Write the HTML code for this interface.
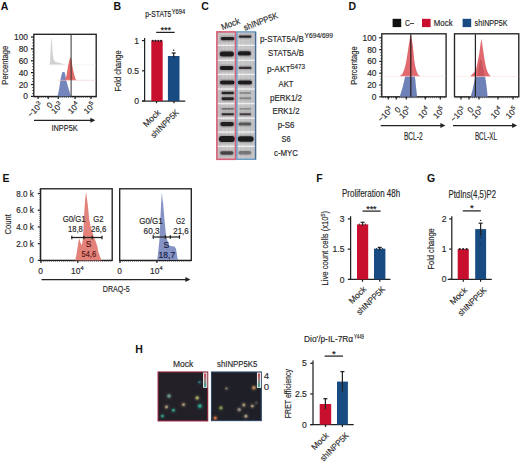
<!DOCTYPE html>
<html><head><meta charset="utf-8"><style>
html,body{margin:0;padding:0;background:#fff;width:520px;height:463px;overflow:hidden;}
svg{display:block;}
text{font-family:"Liberation Sans", sans-serif;}
</style></head><body>
<svg width="520" height="463" viewBox="0 0 520 463">
<text x="0.80" y="9.60" font-size="10.5" font-weight="bold" fill="#111">A</text>
<rect x="33.80" y="34.30" width="62.40" height="62.20" fill="none" stroke="#222" stroke-width="1.35"/>
<line x1="31.00" y1="96.40" x2="33.80" y2="96.40" stroke="#222" stroke-width="1.25"/>
<text x="28.00" y="99.40" font-size="8.4" text-anchor="end" fill="#282828" stroke="#282828" stroke-width="0.16">0</text>
<line x1="31.00" y1="84.52" x2="33.80" y2="84.52" stroke="#222" stroke-width="1.25"/>
<text x="28.00" y="87.52" font-size="8.4" text-anchor="end" fill="#282828" stroke="#282828" stroke-width="0.16">20</text>
<line x1="31.00" y1="72.64" x2="33.80" y2="72.64" stroke="#222" stroke-width="1.25"/>
<text x="28.00" y="75.64" font-size="8.4" text-anchor="end" fill="#282828" stroke="#282828" stroke-width="0.16">40</text>
<line x1="31.00" y1="60.76" x2="33.80" y2="60.76" stroke="#222" stroke-width="1.25"/>
<text x="28.00" y="63.76" font-size="8.4" text-anchor="end" fill="#282828" stroke="#282828" stroke-width="0.16">60</text>
<line x1="31.00" y1="48.88" x2="33.80" y2="48.88" stroke="#222" stroke-width="1.25"/>
<text x="28.00" y="51.88" font-size="8.4" text-anchor="end" fill="#282828" stroke="#282828" stroke-width="0.16">80</text>
<line x1="31.00" y1="37.00" x2="33.80" y2="37.00" stroke="#222" stroke-width="1.25"/>
<text x="28.00" y="40.00" font-size="8.4" text-anchor="end" fill="#282828" stroke="#282828" stroke-width="0.16">100</text>
<line x1="32.20" y1="93.43" x2="33.80" y2="93.43" stroke="#222" stroke-width="0.8"/>
<line x1="32.20" y1="90.46" x2="33.80" y2="90.46" stroke="#222" stroke-width="0.8"/>
<line x1="32.20" y1="87.49" x2="33.80" y2="87.49" stroke="#222" stroke-width="0.8"/>
<line x1="32.20" y1="81.55" x2="33.80" y2="81.55" stroke="#222" stroke-width="0.8"/>
<line x1="32.20" y1="78.58" x2="33.80" y2="78.58" stroke="#222" stroke-width="0.8"/>
<line x1="32.20" y1="75.61" x2="33.80" y2="75.61" stroke="#222" stroke-width="0.8"/>
<line x1="32.20" y1="69.67" x2="33.80" y2="69.67" stroke="#222" stroke-width="0.8"/>
<line x1="32.20" y1="66.70" x2="33.80" y2="66.70" stroke="#222" stroke-width="0.8"/>
<line x1="32.20" y1="63.73" x2="33.80" y2="63.73" stroke="#222" stroke-width="0.8"/>
<line x1="32.20" y1="57.79" x2="33.80" y2="57.79" stroke="#222" stroke-width="0.8"/>
<line x1="32.20" y1="54.82" x2="33.80" y2="54.82" stroke="#222" stroke-width="0.8"/>
<line x1="32.20" y1="51.85" x2="33.80" y2="51.85" stroke="#222" stroke-width="0.8"/>
<line x1="32.20" y1="45.91" x2="33.80" y2="45.91" stroke="#222" stroke-width="0.8"/>
<line x1="32.20" y1="42.94" x2="33.80" y2="42.94" stroke="#222" stroke-width="0.8"/>
<line x1="32.20" y1="39.97" x2="33.80" y2="39.97" stroke="#222" stroke-width="0.8"/>
<text x="7.90" y="65.20" font-size="8.8" text-anchor="middle" fill="#282828" textLength="39" lengthAdjust="spacingAndGlyphs" stroke="#282828" stroke-width="0.16" transform="rotate(-90 7.90 65.20)">Percentage</text>
<path d="M49.3 64.8 L50 62 L50.5 52 L51 42 L51.5 36.8 L52 42 L52.6 52 L53.5 59 L55 61.8 L58 62.5 L62 63.5 L65.5 64.8 Z" fill="#d2d2d2"/>
<line x1="49.00" y1="64.80" x2="95.50" y2="64.80" stroke="#ececec" stroke-width="0.6"/>
<path d="M57.2 96.4 L57.8 94.9 L59.1 89.3 L60.5 79.6 L61.5 75 L62.5 72 L64.5 72 L65.3 75 L66 79.6 L68.8 89.3 L70.6 94.9 L71.2 96.4 Z" fill="#7486bc"/>
<path d="M58.4 80.3 L63 80 L65.4 79.6 L66.5 75.5 L67.4 70 L68.1 65.8 L69.4 60 L70.6 56.8 L71.5 60 L72.3 65.8 L73.3 71 L74.4 75.5 L75.7 79.6 L77 80.3 Z" fill="#e0605e" fill-opacity="0.93"/>
<line x1="58.00" y1="80.30" x2="95.50" y2="80.30" stroke="#f4cccc" stroke-width="0.6"/>
<line x1="71.10" y1="34.30" x2="71.10" y2="96.40" stroke="#333" stroke-width="1"/>
<line x1="38.10" y1="96.40" x2="38.10" y2="99.00" stroke="#222" stroke-width="1.25"/>
<line x1="48.20" y1="96.40" x2="48.20" y2="99.00" stroke="#222" stroke-width="1.25"/>
<line x1="58.30" y1="96.40" x2="58.30" y2="99.00" stroke="#222" stroke-width="1.25"/>
<line x1="75.10" y1="96.40" x2="75.10" y2="99.00" stroke="#222" stroke-width="1.25"/>
<line x1="91.00" y1="96.40" x2="91.00" y2="99.00" stroke="#222" stroke-width="1.25"/>
<line x1="35.00" y1="96.40" x2="35.00" y2="97.80" stroke="#222" stroke-width="0.6"/>
<line x1="37.10" y1="96.40" x2="37.10" y2="97.80" stroke="#222" stroke-width="0.6"/>
<line x1="39.20" y1="96.40" x2="39.20" y2="97.80" stroke="#222" stroke-width="0.6"/>
<line x1="41.30" y1="96.40" x2="41.30" y2="97.80" stroke="#222" stroke-width="0.6"/>
<line x1="43.40" y1="96.40" x2="43.40" y2="97.80" stroke="#222" stroke-width="0.6"/>
<line x1="45.50" y1="96.40" x2="45.50" y2="97.80" stroke="#222" stroke-width="0.6"/>
<line x1="47.60" y1="96.40" x2="47.60" y2="97.80" stroke="#222" stroke-width="0.6"/>
<line x1="49.70" y1="96.40" x2="49.70" y2="97.80" stroke="#222" stroke-width="0.6"/>
<line x1="51.80" y1="96.40" x2="51.80" y2="97.80" stroke="#222" stroke-width="0.6"/>
<line x1="53.90" y1="96.40" x2="53.90" y2="97.80" stroke="#222" stroke-width="0.6"/>
<line x1="56.00" y1="96.40" x2="56.00" y2="97.80" stroke="#222" stroke-width="0.6"/>
<line x1="58.10" y1="96.40" x2="58.10" y2="97.80" stroke="#222" stroke-width="0.6"/>
<line x1="60.20" y1="96.40" x2="60.20" y2="97.80" stroke="#222" stroke-width="0.6"/>
<line x1="62.30" y1="96.40" x2="62.30" y2="97.80" stroke="#222" stroke-width="0.6"/>
<line x1="64.40" y1="96.40" x2="64.40" y2="97.80" stroke="#222" stroke-width="0.6"/>
<line x1="66.50" y1="96.40" x2="66.50" y2="97.80" stroke="#222" stroke-width="0.6"/>
<line x1="68.60" y1="96.40" x2="68.60" y2="97.80" stroke="#222" stroke-width="0.6"/>
<line x1="70.70" y1="96.40" x2="70.70" y2="97.80" stroke="#222" stroke-width="0.6"/>
<line x1="72.80" y1="96.40" x2="72.80" y2="97.80" stroke="#222" stroke-width="0.6"/>
<line x1="74.90" y1="96.40" x2="74.90" y2="97.80" stroke="#222" stroke-width="0.6"/>
<line x1="77.00" y1="96.40" x2="77.00" y2="97.80" stroke="#222" stroke-width="0.6"/>
<line x1="79.10" y1="96.40" x2="79.10" y2="97.80" stroke="#222" stroke-width="0.6"/>
<line x1="81.20" y1="96.40" x2="81.20" y2="97.80" stroke="#222" stroke-width="0.6"/>
<line x1="83.30" y1="96.40" x2="83.30" y2="97.80" stroke="#222" stroke-width="0.6"/>
<line x1="85.40" y1="96.40" x2="85.40" y2="97.80" stroke="#222" stroke-width="0.6"/>
<line x1="87.50" y1="96.40" x2="87.50" y2="97.80" stroke="#222" stroke-width="0.6"/>
<line x1="89.60" y1="96.40" x2="89.60" y2="97.80" stroke="#222" stroke-width="0.6"/>
<line x1="91.70" y1="96.40" x2="91.70" y2="97.80" stroke="#222" stroke-width="0.6"/>
<line x1="93.80" y1="96.40" x2="93.80" y2="97.80" stroke="#222" stroke-width="0.6"/>
<line x1="95.90" y1="96.40" x2="95.90" y2="97.80" stroke="#222" stroke-width="0.6"/>
<text x="43.10" y="105.50" font-size="8.2" text-anchor="end" fill="#282828" stroke="#282828" stroke-width="0.16" transform="rotate(-45 43.10 105.50)">−10<tspan font-size="6.2" dy="-3.2">3</tspan></text>
<text x="53.20" y="105.50" font-size="8.2" text-anchor="end" fill="#282828" stroke="#282828" stroke-width="0.16" transform="rotate(-45 53.20 105.50)">0</text>
<text x="63.30" y="105.50" font-size="8.2" text-anchor="end" fill="#282828" stroke="#282828" stroke-width="0.16" transform="rotate(-45 63.30 105.50)">10<tspan font-size="6.2" dy="-3.2">3</tspan></text>
<text x="80.10" y="105.50" font-size="8.2" text-anchor="end" fill="#282828" stroke="#282828" stroke-width="0.16" transform="rotate(-45 80.10 105.50)">10<tspan font-size="6.2" dy="-3.2">4</tspan></text>
<text x="96.00" y="105.50" font-size="8.2" text-anchor="end" fill="#282828" stroke="#282828" stroke-width="0.16" transform="rotate(-45 96.00 105.50)">10<tspan font-size="6.2" dy="-3.2">5</tspan></text>
<line x1="34.00" y1="120.30" x2="91.40" y2="120.30" stroke="#222" stroke-width="1.25"/>
<path d="M95.40 120.30 L90.40 117.80 L90.40 122.80 Z" fill="#222"/>
<text x="64.60" y="130.80" font-size="9.6" text-anchor="middle" fill="#282828" textLength="26.3" lengthAdjust="spacingAndGlyphs" stroke="#282828" stroke-width="0.16">INPP5K</text>
<text x="113.40" y="10.10" font-size="10.5" font-weight="bold" fill="#111">B</text>
<text x="145.30" y="16.80" font-size="8.4" fill="#1e1e1e" textLength="26" lengthAdjust="spacingAndGlyphs" stroke="#1e1e1e" stroke-width="0.16">p-STAT5</text>
<text x="171.70" y="13.80" font-size="6.8" fill="#1e1e1e" textLength="13.5" lengthAdjust="spacingAndGlyphs" stroke="#1e1e1e" stroke-width="0.16">Y694</text>
<line x1="144.60" y1="38.00" x2="144.60" y2="101.00" stroke="#222" stroke-width="1.25"/>
<line x1="142.00" y1="40.60" x2="144.50" y2="40.60" stroke="#222" stroke-width="1.25"/>
<text x="139.10" y="43.60" font-size="8.6" text-anchor="end" fill="#282828" stroke="#282828" stroke-width="0.16">1</text>
<line x1="142.00" y1="70.80" x2="144.50" y2="70.80" stroke="#222" stroke-width="1.25"/>
<text x="139.10" y="73.80" font-size="8.6" text-anchor="end" fill="#282828" stroke="#282828" stroke-width="0.16">0.5</text>
<line x1="142.00" y1="101.00" x2="144.50" y2="101.00" stroke="#222" stroke-width="1.25"/>
<text x="139.10" y="104.00" font-size="8.6" text-anchor="end" fill="#282828" stroke="#282828" stroke-width="0.16">0</text>
<line x1="142.30" y1="101.00" x2="185.30" y2="101.00" stroke="#222" stroke-width="1.25"/>
<rect x="151.30" y="40.60" width="11.40" height="60.40" fill="#c8102e"/>
<rect x="167.90" y="56.00" width="11.60" height="45.00" fill="#174b82"/>
<circle cx="152.80" cy="40.70" r="1.05" fill="#222"/>
<circle cx="155.50" cy="40.70" r="1.05" fill="#222"/>
<circle cx="158.30" cy="40.70" r="1.05" fill="#222"/>
<circle cx="161.00" cy="40.70" r="1.05" fill="#222"/>
<line x1="173.70" y1="53.00" x2="173.70" y2="58.00" stroke="#222" stroke-width="1.25"/>
<line x1="171.70" y1="53.00" x2="175.70" y2="53.00" stroke="#222" stroke-width="1.25"/>
<circle cx="173.70" cy="50.20" r="0.8" fill="#222"/>
<line x1="156.20" y1="32.40" x2="174.70" y2="32.40" stroke="#222" stroke-width="1.25"/>
<text x="165.70" y="33.00" font-size="9.6" text-anchor="middle" textLength="10.6" lengthAdjust="spacingAndGlyphs" stroke="#222" stroke-width="0.16">***</text>
<line x1="156.50" y1="101.00" x2="156.50" y2="103.20" stroke="#222" stroke-width="1.25"/>
<line x1="174.00" y1="101.00" x2="174.00" y2="103.20" stroke="#222" stroke-width="1.25"/>
<text x="161.00" y="113.00" font-size="8.4" text-anchor="end" fill="#2a2a2a" textLength="20.5" lengthAdjust="spacingAndGlyphs" stroke="#2a2a2a" stroke-width="0.16" transform="rotate(-45 161.00 113.00)">Mock</text>
<text x="179.50" y="113.00" font-size="8.4" text-anchor="end" fill="#2a2a2a" textLength="36" lengthAdjust="spacingAndGlyphs" stroke="#2a2a2a" stroke-width="0.16" transform="rotate(-45 179.50 113.00)">shINPP5K</text>
<text x="121.00" y="70.90" font-size="9.2" text-anchor="middle" fill="#282828" textLength="41" lengthAdjust="spacingAndGlyphs" stroke="#282828" stroke-width="0.16" transform="rotate(-90 121.00 70.90)">Fold change</text>
<text x="201.30" y="10.10" font-size="10.5" font-weight="bold" fill="#111">C</text>
<text x="222.40" y="30.30" font-size="8.8" fill="#282828" textLength="19.6" lengthAdjust="spacingAndGlyphs" stroke="#282828" stroke-width="0.16" transform="rotate(-21 222.40 30.30)">Mock</text>
<text x="245.00" y="30.80" font-size="8.8" fill="#282828" textLength="36.0" lengthAdjust="spacingAndGlyphs" stroke="#282828" stroke-width="0.16" transform="rotate(-21 245.00 30.80)">shINPP5K</text>
<defs><linearGradient id="blotg" x1="0" x2="1" y1="0" y2="0"><stop offset="0" stop-color="#c0bebf"/><stop offset="0.25" stop-color="#c8c6c7"/><stop offset="0.5" stop-color="#cfcdcd"/><stop offset="0.75" stop-color="#c6c6c8"/><stop offset="1" stop-color="#c2c3c6"/></linearGradient><filter id="blur1" x="-20%" y="-50%" width="140%" height="200%"><feGaussianBlur stdDeviation="0.7"/></filter><filter id="blur3" x="-100%" y="-100%" width="300%" height="300%"><feGaussianBlur stdDeviation="1.0"/></filter><filter id="blur2" x="-20%" y="-80%" width="140%" height="260%"><feGaussianBlur stdDeviation="0.55"/></filter></defs>
<rect x="216.50" y="31.70" width="39.00" height="127.80" fill="url(#blotg)"/>
<rect x="219.50" y="32.00" width="1.20" height="127.20" fill="#9a9a9a" fill-opacity="0.18"/>
<rect x="224.50" y="32.00" width="1.00" height="127.20" fill="#b0a890" fill-opacity="0.2"/>
<rect x="228.00" y="32.00" width="1.50" height="127.20" fill="#8a8a9a" fill-opacity="0.15"/>
<rect x="231.50" y="32.00" width="1.20" height="127.20" fill="#a09a90" fill-opacity="0.18"/>
<rect x="233.50" y="32.00" width="1.00" height="127.20" fill="#8890a0" fill-opacity="0.2"/>
<rect x="240.00" y="32.00" width="1.20" height="127.20" fill="#a0a0a0" fill-opacity="0.12"/>
<rect x="245.00" y="32.00" width="1.50" height="127.20" fill="#a8a098" fill-opacity="0.12"/>
<rect x="250.00" y="32.00" width="1.20" height="127.20" fill="#9898a0" fill-opacity="0.12"/>
<rect x="253.50" y="32.00" width="1.00" height="127.20" fill="#a0a0a8" fill-opacity="0.15"/>
<rect x="216.50" y="44.60" width="39.00" height="1.40" fill="#eeeeee"/>
<rect x="216.50" y="59.60" width="39.00" height="1.40" fill="#eeeeee"/>
<rect x="216.50" y="73.70" width="39.00" height="1.40" fill="#eeeeee"/>
<rect x="216.50" y="88.30" width="39.00" height="1.40" fill="#eeeeee"/>
<rect x="216.50" y="102.90" width="39.00" height="1.40" fill="#eeeeee"/>
<rect x="216.50" y="117.40" width="39.00" height="1.40" fill="#eeeeee"/>
<rect x="216.50" y="131.30" width="39.00" height="1.40" fill="#eeeeee"/>
<rect x="216.50" y="145.60" width="39.00" height="1.40" fill="#eeeeee"/>
<rect x="219.80" y="35.30" width="15.60" height="6.60" rx="3.30" fill="#605a5c" fill-opacity="0.27" filter="url(#blur1)"/>
<rect x="220.80" y="36.90" width="13.60" height="3.40" rx="1.70" fill="#1e1a1e" fill-opacity="0.97" filter="url(#blur2)"/>
<rect x="237.80" y="33.85" width="14.60" height="5.50" rx="2.75" fill="#605a5c" fill-opacity="0.26" filter="url(#blur1)"/>
<rect x="238.80" y="35.45" width="12.60" height="2.30" rx="1.15" fill="#1e1a1e" fill-opacity="0.92" filter="url(#blur2)"/>
<rect x="218.80" y="49.90" width="16.10" height="8.20" rx="4.10" fill="#605a5c" fill-opacity="0.28" filter="url(#blur1)"/>
<rect x="219.80" y="51.50" width="14.10" height="5.00" rx="2.50" fill="#1e1a1e" fill-opacity="1.0" filter="url(#blur2)"/>
<rect x="236.80" y="49.60" width="15.10" height="7.60" rx="3.80" fill="#605a5c" fill-opacity="0.28" filter="url(#blur1)"/>
<rect x="237.80" y="51.20" width="13.10" height="4.40" rx="2.20" fill="#1e1a1e" fill-opacity="1.0" filter="url(#blur2)"/>
<rect x="218.80" y="64.30" width="15.60" height="7.20" rx="3.60" fill="#605a5c" fill-opacity="0.28" filter="url(#blur1)"/>
<rect x="219.80" y="65.90" width="13.60" height="4.00" rx="2.00" fill="#1e1a1e" fill-opacity="1.0" filter="url(#blur2)"/>
<rect x="237.80" y="65.20" width="14.60" height="5.40" rx="2.70" fill="#605a5c" fill-opacity="0.24" filter="url(#blur1)"/>
<rect x="238.80" y="66.80" width="12.60" height="2.20" rx="1.10" fill="#1e1a1e" fill-opacity="0.85" filter="url(#blur2)"/>
<rect x="219.00" y="78.80" width="16.60" height="7.40" rx="3.70" fill="#605a5c" fill-opacity="0.28" filter="url(#blur1)"/>
<rect x="220.00" y="80.40" width="14.60" height="4.20" rx="2.10" fill="#1e1a1e" fill-opacity="1.0" filter="url(#blur2)"/>
<rect x="236.80" y="78.80" width="16.20" height="7.40" rx="3.70" fill="#605a5c" fill-opacity="0.28" filter="url(#blur1)"/>
<rect x="237.80" y="80.40" width="14.20" height="4.20" rx="2.10" fill="#1e1a1e" fill-opacity="1.0" filter="url(#blur2)"/>
<rect x="220.60" y="90.20" width="14.30" height="5.60" rx="2.80" fill="#605a5c" fill-opacity="0.27" filter="url(#blur1)"/>
<rect x="221.60" y="91.80" width="12.30" height="2.40" rx="1.20" fill="#1e1a1e" fill-opacity="0.95" filter="url(#blur2)"/>
<rect x="238.50" y="90.40" width="13.50" height="5.20" rx="2.60" fill="#605a5c" fill-opacity="0.08" filter="url(#blur1)"/>
<rect x="239.50" y="92.00" width="11.50" height="2.00" rx="1.00" fill="#1e1a1e" fill-opacity="0.3" filter="url(#blur2)"/>
<rect x="220.60" y="95.75" width="14.30" height="6.10" rx="3.05" fill="#605a5c" fill-opacity="0.27" filter="url(#blur1)"/>
<rect x="221.60" y="97.35" width="12.30" height="2.90" rx="1.45" fill="#1e1a1e" fill-opacity="0.95" filter="url(#blur2)"/>
<rect x="238.50" y="95.70" width="13.50" height="5.20" rx="2.60" fill="#605a5c" fill-opacity="0.10" filter="url(#blur1)"/>
<rect x="239.50" y="97.30" width="11.50" height="2.00" rx="1.00" fill="#1e1a1e" fill-opacity="0.35" filter="url(#blur2)"/>
<rect x="220.60" y="106.40" width="14.30" height="5.00" rx="2.50" fill="#605a5c" fill-opacity="0.13" filter="url(#blur1)"/>
<rect x="221.60" y="108.00" width="12.30" height="1.80" rx="0.90" fill="#1e1a1e" fill-opacity="0.45" filter="url(#blur2)"/>
<rect x="238.50" y="106.40" width="13.50" height="5.00" rx="2.50" fill="#605a5c" fill-opacity="0.08" filter="url(#blur1)"/>
<rect x="239.50" y="108.00" width="11.50" height="1.80" rx="0.90" fill="#1e1a1e" fill-opacity="0.3" filter="url(#blur2)"/>
<rect x="220.60" y="111.55" width="14.30" height="5.30" rx="2.65" fill="#605a5c" fill-opacity="0.25" filter="url(#blur1)"/>
<rect x="221.60" y="113.15" width="12.30" height="2.10" rx="1.05" fill="#1e1a1e" fill-opacity="0.9" filter="url(#blur2)"/>
<rect x="238.50" y="111.60" width="13.50" height="5.20" rx="2.60" fill="#605a5c" fill-opacity="0.21" filter="url(#blur1)"/>
<rect x="239.50" y="113.20" width="11.50" height="2.00" rx="1.00" fill="#1e1a1e" fill-opacity="0.75" filter="url(#blur2)"/>
<rect x="219.30" y="120.35" width="15.60" height="7.50" rx="3.75" fill="#605a5c" fill-opacity="0.27" filter="url(#blur1)"/>
<rect x="220.30" y="121.95" width="13.60" height="4.30" rx="2.15" fill="#1e1a1e" fill-opacity="0.97" filter="url(#blur2)"/>
<rect x="237.50" y="121.00" width="14.60" height="6.20" rx="3.10" fill="#605a5c" fill-opacity="0.17" filter="url(#blur1)"/>
<rect x="238.50" y="122.60" width="12.60" height="3.00" rx="1.50" fill="#1e1a1e" fill-opacity="0.62" filter="url(#blur2)"/>
<rect x="217.90" y="134.40" width="18.00" height="9.20" rx="4.60" fill="#605a5c" fill-opacity="0.28" filter="url(#blur1)"/>
<rect x="218.90" y="136.00" width="16.00" height="6.00" rx="3.00" fill="#1e1a1e" fill-opacity="1.0" filter="url(#blur2)"/>
<rect x="236.80" y="134.75" width="17.80" height="8.50" rx="4.25" fill="#605a5c" fill-opacity="0.28" filter="url(#blur1)"/>
<rect x="237.80" y="136.35" width="15.80" height="5.30" rx="2.65" fill="#1e1a1e" fill-opacity="1.0" filter="url(#blur2)"/>
<rect x="219.30" y="149.75" width="15.10" height="6.70" rx="3.35" fill="#605a5c" fill-opacity="0.20" filter="url(#blur1)"/>
<rect x="220.30" y="151.35" width="13.10" height="3.50" rx="1.75" fill="#1e1a1e" fill-opacity="0.72" filter="url(#blur2)"/>
<rect x="237.50" y="149.50" width="14.60" height="6.60" rx="3.30" fill="#605a5c" fill-opacity="0.12" filter="url(#blur1)"/>
<rect x="238.50" y="151.10" width="12.60" height="3.40" rx="1.70" fill="#1e1a1e" fill-opacity="0.42" filter="url(#blur2)"/>
<rect x="216.90" y="31.90" width="18.60" height="127.40" fill="none" stroke="#d86078" stroke-width="1.6"/>
<rect x="236.90" y="31.90" width="18.60" height="127.40" fill="none" stroke="#6a9cc8" stroke-width="1.4"/>
<line x1="255.60" y1="31.90" x2="255.60" y2="159.30" stroke="#4a6a90" stroke-width="1.2"/>
<text x="260.00" y="41.70" font-size="8.4" fill="#282828" textLength="43.8" lengthAdjust="spacingAndGlyphs" stroke="#282828" stroke-width="0.16">p-STAT5A/B</text>
<text x="304.60" y="38.10" font-size="6.9" fill="#282828" textLength="28.4" lengthAdjust="spacingAndGlyphs" stroke="#282828" stroke-width="0.16">Y694/699</text>
<text x="286.00" y="55.90" font-size="8.4" text-anchor="middle" fill="#282828" textLength="35.8" lengthAdjust="spacingAndGlyphs" stroke="#282828" stroke-width="0.16">STAT5A/B</text>
<text x="267.00" y="71.80" font-size="8.4" fill="#282828" textLength="23.5" lengthAdjust="spacingAndGlyphs" stroke="#282828" stroke-width="0.16">p-AKT</text>
<text x="290.30" y="69.00" font-size="6.8" fill="#282828" textLength="14.7" lengthAdjust="spacingAndGlyphs" stroke="#282828" stroke-width="0.16">S473</text>
<text x="286.00" y="86.60" font-size="8.4" text-anchor="middle" fill="#282828" textLength="15" lengthAdjust="spacingAndGlyphs" stroke="#282828" stroke-width="0.16">AKT</text>
<text x="286.00" y="100.80" font-size="8.4" text-anchor="middle" fill="#282828" textLength="32.1" lengthAdjust="spacingAndGlyphs" stroke="#282828" stroke-width="0.16">pERK1/2</text>
<text x="286.00" y="114.40" font-size="8.4" text-anchor="middle" fill="#282828" textLength="27.2" lengthAdjust="spacingAndGlyphs" stroke="#282828" stroke-width="0.16">ERK1/2</text>
<text x="286.00" y="128.40" font-size="8.4" text-anchor="middle" fill="#282828" textLength="16.6" lengthAdjust="spacingAndGlyphs" stroke="#282828" stroke-width="0.16">p-S6</text>
<text x="286.00" y="142.00" font-size="8.4" text-anchor="middle" fill="#282828" textLength="9" lengthAdjust="spacingAndGlyphs" stroke="#282828" stroke-width="0.16">S6</text>
<text x="286.00" y="156.30" font-size="8.4" text-anchor="middle" fill="#282828" textLength="24" lengthAdjust="spacingAndGlyphs" stroke="#282828" stroke-width="0.16">c-MYC</text>
<text x="348.60" y="10.10" font-size="10.5" font-weight="bold" fill="#111">D</text>
<rect x="392.60" y="18.80" width="8.60" height="8.30" fill="#111"/>
<text x="405.00" y="25.70" font-size="8.2" fill="#282828" textLength="8.8" lengthAdjust="spacingAndGlyphs" stroke="#282828" stroke-width="0.16">C–</text>
<rect x="422.00" y="18.80" width="8.60" height="8.30" fill="#c8102e"/>
<text x="433.80" y="25.70" font-size="8.2" fill="#282828" textLength="18.8" lengthAdjust="spacingAndGlyphs" stroke="#282828" stroke-width="0.16">Mock</text>
<rect x="462.60" y="18.80" width="8.60" height="8.30" fill="#174b82"/>
<text x="474.60" y="25.70" font-size="8.2" fill="#282828" textLength="33" lengthAdjust="spacingAndGlyphs" stroke="#282828" stroke-width="0.16">shINPP5K</text>
<rect x="381.80" y="33.80" width="64.30" height="63.00" fill="none" stroke="#222" stroke-width="1.35"/>
<rect x="454.50" y="33.80" width="64.30" height="63.00" fill="none" stroke="#222" stroke-width="1.35"/>
<line x1="379.20" y1="96.80" x2="381.80" y2="96.80" stroke="#222" stroke-width="1.25"/>
<text x="376.50" y="99.80" font-size="8.4" text-anchor="end" fill="#282828" stroke="#282828" stroke-width="0.16">0</text>
<line x1="379.20" y1="85.00" x2="381.80" y2="85.00" stroke="#222" stroke-width="1.25"/>
<text x="376.50" y="88.00" font-size="8.4" text-anchor="end" fill="#282828" stroke="#282828" stroke-width="0.16">20</text>
<line x1="379.20" y1="73.20" x2="381.80" y2="73.20" stroke="#222" stroke-width="1.25"/>
<text x="376.50" y="76.20" font-size="8.4" text-anchor="end" fill="#282828" stroke="#282828" stroke-width="0.16">40</text>
<line x1="379.20" y1="61.40" x2="381.80" y2="61.40" stroke="#222" stroke-width="1.25"/>
<text x="376.50" y="64.40" font-size="8.4" text-anchor="end" fill="#282828" stroke="#282828" stroke-width="0.16">60</text>
<line x1="379.20" y1="49.60" x2="381.80" y2="49.60" stroke="#222" stroke-width="1.25"/>
<text x="376.50" y="52.60" font-size="8.4" text-anchor="end" fill="#282828" stroke="#282828" stroke-width="0.16">80</text>
<line x1="379.20" y1="37.80" x2="381.80" y2="37.80" stroke="#222" stroke-width="1.25"/>
<text x="376.50" y="40.80" font-size="8.4" text-anchor="end" fill="#282828" stroke="#282828" stroke-width="0.16">100</text>
<line x1="380.40" y1="93.85" x2="381.80" y2="93.85" stroke="#222" stroke-width="0.8"/>
<line x1="380.40" y1="90.90" x2="381.80" y2="90.90" stroke="#222" stroke-width="0.8"/>
<line x1="380.40" y1="87.95" x2="381.80" y2="87.95" stroke="#222" stroke-width="0.8"/>
<line x1="380.40" y1="82.05" x2="381.80" y2="82.05" stroke="#222" stroke-width="0.8"/>
<line x1="380.40" y1="79.10" x2="381.80" y2="79.10" stroke="#222" stroke-width="0.8"/>
<line x1="380.40" y1="76.15" x2="381.80" y2="76.15" stroke="#222" stroke-width="0.8"/>
<line x1="380.40" y1="70.25" x2="381.80" y2="70.25" stroke="#222" stroke-width="0.8"/>
<line x1="380.40" y1="67.30" x2="381.80" y2="67.30" stroke="#222" stroke-width="0.8"/>
<line x1="380.40" y1="64.35" x2="381.80" y2="64.35" stroke="#222" stroke-width="0.8"/>
<line x1="380.40" y1="58.45" x2="381.80" y2="58.45" stroke="#222" stroke-width="0.8"/>
<line x1="380.40" y1="55.50" x2="381.80" y2="55.50" stroke="#222" stroke-width="0.8"/>
<line x1="380.40" y1="52.55" x2="381.80" y2="52.55" stroke="#222" stroke-width="0.8"/>
<line x1="380.40" y1="46.65" x2="381.80" y2="46.65" stroke="#222" stroke-width="0.8"/>
<line x1="380.40" y1="43.70" x2="381.80" y2="43.70" stroke="#222" stroke-width="0.8"/>
<line x1="380.40" y1="40.75" x2="381.80" y2="40.75" stroke="#222" stroke-width="0.8"/>
<text x="356.60" y="65.60" font-size="9.2" text-anchor="middle" fill="#282828" textLength="38.5" lengthAdjust="spacingAndGlyphs" stroke="#282828" stroke-width="0.16" transform="rotate(-90 356.60 65.60)">Percentage</text>
<path d="M399.7 96.8 L401.5 91 L402.9 86.3 L404.3 80 L405.2 76.3 L414.8 76.3 L415.4 80 L415.9 86.3 L416.5 91 L417.1 96.8 Z" fill="#6f82b8"/>
<path d="M399.3 76.3 L401 75.2 L402.6 73.4 L403.9 70.6 L405.3 66 L406.4 60.6 L407.6 53 L408.6 46.3 L409.8 39 L410.7 34.9 L411.7 39 L412.9 46.3 L413.6 53 L414.3 60.6 L415.2 66 L416.4 70.6 L417.4 73.2 L418.6 75 L420.2 76.3 Z" fill="#de5f64" fill-opacity="0.93"/>
<line x1="382.30" y1="76.30" x2="445.80" y2="76.30" stroke="#f6dada" stroke-width="0.5"/>
<line x1="410.80" y1="34.30" x2="410.80" y2="96.80" stroke="#2a1a1a" stroke-width="1.2"/>
<path d="M470.7 96.8 L472.5 90 L473.8 84 L474.8 79 L475.3 76.6 L485 76.6 L485.7 80 L486.5 86 L487.1 91 L487.6 96.8 Z" fill="#6f82b8"/>
<path d="M470.4 76.6 L471.4 74.9 L473.5 73 L475 71.5 L476.4 67.7 L477.8 61 L479.3 53.4 L480.4 45 L481.4 38.4 L482.4 45 L483.6 53.4 L484.8 61 L486.1 67.7 L487.4 71.5 L489.3 74.9 L491 76.6 Z" fill="#de5f64" fill-opacity="0.93"/>
<path d="M477.2 76.6 L478.2 70 L479.5 62 L480.6 58.5 L481.8 62 L483.4 70 L484.6 76.6 Z" fill="#b03c48" fill-opacity="0.45"/>
<line x1="455.00" y1="76.60" x2="518.40" y2="76.60" stroke="#f6dada" stroke-width="0.5"/>
<line x1="475.40" y1="34.30" x2="475.40" y2="96.80" stroke="#222" stroke-width="1.2"/>
<line x1="388.30" y1="96.80" x2="388.30" y2="99.50" stroke="#222" stroke-width="1.25"/>
<line x1="396.30" y1="96.80" x2="396.30" y2="99.50" stroke="#222" stroke-width="1.25"/>
<line x1="406.30" y1="96.80" x2="406.30" y2="99.50" stroke="#222" stroke-width="1.25"/>
<line x1="425.30" y1="96.80" x2="425.30" y2="99.50" stroke="#222" stroke-width="1.25"/>
<line x1="440.30" y1="96.80" x2="440.30" y2="99.50" stroke="#222" stroke-width="1.25"/>
<line x1="383.30" y1="96.80" x2="383.30" y2="98.20" stroke="#222" stroke-width="0.6"/>
<line x1="385.35" y1="96.80" x2="385.35" y2="98.20" stroke="#222" stroke-width="0.6"/>
<line x1="387.40" y1="96.80" x2="387.40" y2="98.20" stroke="#222" stroke-width="0.6"/>
<line x1="389.45" y1="96.80" x2="389.45" y2="98.20" stroke="#222" stroke-width="0.6"/>
<line x1="391.50" y1="96.80" x2="391.50" y2="98.20" stroke="#222" stroke-width="0.6"/>
<line x1="393.55" y1="96.80" x2="393.55" y2="98.20" stroke="#222" stroke-width="0.6"/>
<line x1="395.60" y1="96.80" x2="395.60" y2="98.20" stroke="#222" stroke-width="0.6"/>
<line x1="397.65" y1="96.80" x2="397.65" y2="98.20" stroke="#222" stroke-width="0.6"/>
<line x1="399.70" y1="96.80" x2="399.70" y2="98.20" stroke="#222" stroke-width="0.6"/>
<line x1="401.75" y1="96.80" x2="401.75" y2="98.20" stroke="#222" stroke-width="0.6"/>
<line x1="403.80" y1="96.80" x2="403.80" y2="98.20" stroke="#222" stroke-width="0.6"/>
<line x1="405.85" y1="96.80" x2="405.85" y2="98.20" stroke="#222" stroke-width="0.6"/>
<line x1="407.90" y1="96.80" x2="407.90" y2="98.20" stroke="#222" stroke-width="0.6"/>
<line x1="409.95" y1="96.80" x2="409.95" y2="98.20" stroke="#222" stroke-width="0.6"/>
<line x1="412.00" y1="96.80" x2="412.00" y2="98.20" stroke="#222" stroke-width="0.6"/>
<line x1="414.05" y1="96.80" x2="414.05" y2="98.20" stroke="#222" stroke-width="0.6"/>
<line x1="416.10" y1="96.80" x2="416.10" y2="98.20" stroke="#222" stroke-width="0.6"/>
<line x1="418.15" y1="96.80" x2="418.15" y2="98.20" stroke="#222" stroke-width="0.6"/>
<line x1="420.20" y1="96.80" x2="420.20" y2="98.20" stroke="#222" stroke-width="0.6"/>
<line x1="422.25" y1="96.80" x2="422.25" y2="98.20" stroke="#222" stroke-width="0.6"/>
<line x1="424.30" y1="96.80" x2="424.30" y2="98.20" stroke="#222" stroke-width="0.6"/>
<line x1="426.35" y1="96.80" x2="426.35" y2="98.20" stroke="#222" stroke-width="0.6"/>
<line x1="428.40" y1="96.80" x2="428.40" y2="98.20" stroke="#222" stroke-width="0.6"/>
<line x1="430.45" y1="96.80" x2="430.45" y2="98.20" stroke="#222" stroke-width="0.6"/>
<line x1="432.50" y1="96.80" x2="432.50" y2="98.20" stroke="#222" stroke-width="0.6"/>
<line x1="434.55" y1="96.80" x2="434.55" y2="98.20" stroke="#222" stroke-width="0.6"/>
<line x1="436.60" y1="96.80" x2="436.60" y2="98.20" stroke="#222" stroke-width="0.6"/>
<line x1="438.65" y1="96.80" x2="438.65" y2="98.20" stroke="#222" stroke-width="0.6"/>
<line x1="440.70" y1="96.80" x2="440.70" y2="98.20" stroke="#222" stroke-width="0.6"/>
<line x1="442.75" y1="96.80" x2="442.75" y2="98.20" stroke="#222" stroke-width="0.6"/>
<line x1="444.80" y1="96.80" x2="444.80" y2="98.20" stroke="#222" stroke-width="0.6"/>
<text x="393.30" y="110.30" font-size="8.2" text-anchor="end" fill="#282828" stroke="#282828" stroke-width="0.16" transform="rotate(-45 393.30 110.30)">−10<tspan font-size="6.2" dy="-3.2">3</tspan></text>
<text x="401.30" y="110.30" font-size="8.2" text-anchor="end" fill="#282828" stroke="#282828" stroke-width="0.16" transform="rotate(-45 401.30 110.30)">0</text>
<text x="411.30" y="110.30" font-size="8.2" text-anchor="end" fill="#282828" stroke="#282828" stroke-width="0.16" transform="rotate(-45 411.30 110.30)">10<tspan font-size="6.2" dy="-3.2">3</tspan></text>
<text x="430.30" y="110.30" font-size="8.2" text-anchor="end" fill="#282828" stroke="#282828" stroke-width="0.16" transform="rotate(-45 430.30 110.30)">10<tspan font-size="6.2" dy="-3.2">4</tspan></text>
<text x="445.30" y="110.30" font-size="8.2" text-anchor="end" fill="#282828" stroke="#282828" stroke-width="0.16" transform="rotate(-45 445.30 110.30)">10<tspan font-size="6.2" dy="-3.2">5</tspan></text>
<line x1="461.00" y1="96.80" x2="461.00" y2="99.50" stroke="#222" stroke-width="1.25"/>
<line x1="469.00" y1="96.80" x2="469.00" y2="99.50" stroke="#222" stroke-width="1.25"/>
<line x1="479.00" y1="96.80" x2="479.00" y2="99.50" stroke="#222" stroke-width="1.25"/>
<line x1="498.00" y1="96.80" x2="498.00" y2="99.50" stroke="#222" stroke-width="1.25"/>
<line x1="513.00" y1="96.80" x2="513.00" y2="99.50" stroke="#222" stroke-width="1.25"/>
<line x1="456.00" y1="96.80" x2="456.00" y2="98.20" stroke="#222" stroke-width="0.6"/>
<line x1="458.05" y1="96.80" x2="458.05" y2="98.20" stroke="#222" stroke-width="0.6"/>
<line x1="460.10" y1="96.80" x2="460.10" y2="98.20" stroke="#222" stroke-width="0.6"/>
<line x1="462.15" y1="96.80" x2="462.15" y2="98.20" stroke="#222" stroke-width="0.6"/>
<line x1="464.20" y1="96.80" x2="464.20" y2="98.20" stroke="#222" stroke-width="0.6"/>
<line x1="466.25" y1="96.80" x2="466.25" y2="98.20" stroke="#222" stroke-width="0.6"/>
<line x1="468.30" y1="96.80" x2="468.30" y2="98.20" stroke="#222" stroke-width="0.6"/>
<line x1="470.35" y1="96.80" x2="470.35" y2="98.20" stroke="#222" stroke-width="0.6"/>
<line x1="472.40" y1="96.80" x2="472.40" y2="98.20" stroke="#222" stroke-width="0.6"/>
<line x1="474.45" y1="96.80" x2="474.45" y2="98.20" stroke="#222" stroke-width="0.6"/>
<line x1="476.50" y1="96.80" x2="476.50" y2="98.20" stroke="#222" stroke-width="0.6"/>
<line x1="478.55" y1="96.80" x2="478.55" y2="98.20" stroke="#222" stroke-width="0.6"/>
<line x1="480.60" y1="96.80" x2="480.60" y2="98.20" stroke="#222" stroke-width="0.6"/>
<line x1="482.65" y1="96.80" x2="482.65" y2="98.20" stroke="#222" stroke-width="0.6"/>
<line x1="484.70" y1="96.80" x2="484.70" y2="98.20" stroke="#222" stroke-width="0.6"/>
<line x1="486.75" y1="96.80" x2="486.75" y2="98.20" stroke="#222" stroke-width="0.6"/>
<line x1="488.80" y1="96.80" x2="488.80" y2="98.20" stroke="#222" stroke-width="0.6"/>
<line x1="490.85" y1="96.80" x2="490.85" y2="98.20" stroke="#222" stroke-width="0.6"/>
<line x1="492.90" y1="96.80" x2="492.90" y2="98.20" stroke="#222" stroke-width="0.6"/>
<line x1="494.95" y1="96.80" x2="494.95" y2="98.20" stroke="#222" stroke-width="0.6"/>
<line x1="497.00" y1="96.80" x2="497.00" y2="98.20" stroke="#222" stroke-width="0.6"/>
<line x1="499.05" y1="96.80" x2="499.05" y2="98.20" stroke="#222" stroke-width="0.6"/>
<line x1="501.10" y1="96.80" x2="501.10" y2="98.20" stroke="#222" stroke-width="0.6"/>
<line x1="503.15" y1="96.80" x2="503.15" y2="98.20" stroke="#222" stroke-width="0.6"/>
<line x1="505.20" y1="96.80" x2="505.20" y2="98.20" stroke="#222" stroke-width="0.6"/>
<line x1="507.25" y1="96.80" x2="507.25" y2="98.20" stroke="#222" stroke-width="0.6"/>
<line x1="509.30" y1="96.80" x2="509.30" y2="98.20" stroke="#222" stroke-width="0.6"/>
<line x1="511.35" y1="96.80" x2="511.35" y2="98.20" stroke="#222" stroke-width="0.6"/>
<line x1="513.40" y1="96.80" x2="513.40" y2="98.20" stroke="#222" stroke-width="0.6"/>
<line x1="515.45" y1="96.80" x2="515.45" y2="98.20" stroke="#222" stroke-width="0.6"/>
<line x1="517.50" y1="96.80" x2="517.50" y2="98.20" stroke="#222" stroke-width="0.6"/>
<text x="466.00" y="110.30" font-size="8.2" text-anchor="end" fill="#282828" stroke="#282828" stroke-width="0.16" transform="rotate(-45 466.00 110.30)">−10<tspan font-size="6.2" dy="-3.2">3</tspan></text>
<text x="474.00" y="110.30" font-size="8.2" text-anchor="end" fill="#282828" stroke="#282828" stroke-width="0.16" transform="rotate(-45 474.00 110.30)">0</text>
<text x="484.00" y="110.30" font-size="8.2" text-anchor="end" fill="#282828" stroke="#282828" stroke-width="0.16" transform="rotate(-45 484.00 110.30)">10<tspan font-size="6.2" dy="-3.2">3</tspan></text>
<text x="503.00" y="110.30" font-size="8.2" text-anchor="end" fill="#282828" stroke="#282828" stroke-width="0.16" transform="rotate(-45 503.00 110.30)">10<tspan font-size="6.2" dy="-3.2">4</tspan></text>
<text x="518.00" y="110.30" font-size="8.2" text-anchor="end" fill="#282828" stroke="#282828" stroke-width="0.16" transform="rotate(-45 518.00 110.30)">10<tspan font-size="6.2" dy="-3.2">5</tspan></text>
<line x1="380.70" y1="125.50" x2="441.40" y2="125.50" stroke="#222" stroke-width="1.25"/>
<path d="M445.40 125.50 L440.40 123.00 L440.40 128.00 Z" fill="#222"/>
<line x1="453.00" y1="125.50" x2="513.10" y2="125.50" stroke="#222" stroke-width="1.25"/>
<path d="M517.10 125.50 L512.10 123.00 L512.10 128.00 Z" fill="#222"/>
<text x="413.30" y="140.00" font-size="10.2" text-anchor="middle" fill="#2a2a2a" textLength="18.7" lengthAdjust="spacingAndGlyphs" stroke="#2a2a2a" stroke-width="0.16">BCL-2</text>
<text x="486.00" y="140.20" font-size="10.4" text-anchor="middle" fill="#2a2a2a" textLength="22.2" lengthAdjust="spacingAndGlyphs" stroke="#2a2a2a" stroke-width="0.16">BCL-XL</text>
<text x="2.60" y="182.30" font-size="10.5" font-weight="bold" fill="#111">E</text>
<rect x="40.60" y="188.80" width="71.60" height="71.60" fill="none" stroke="#222" stroke-width="1.35"/>
<rect x="119.70" y="188.80" width="71.60" height="71.60" fill="none" stroke="#222" stroke-width="1.35"/>
<line x1="37.80" y1="193.50" x2="40.60" y2="193.50" stroke="#222" stroke-width="1.25"/>
<text x="33.80" y="196.50" font-size="8.2" text-anchor="end" fill="#282828" textLength="17.5" lengthAdjust="spacingAndGlyphs" stroke="#282828" stroke-width="0.16">8.0 k</text>
<line x1="37.80" y1="210.22" x2="40.60" y2="210.22" stroke="#222" stroke-width="1.25"/>
<text x="33.80" y="213.22" font-size="8.2" text-anchor="end" fill="#282828" textLength="17.5" lengthAdjust="spacingAndGlyphs" stroke="#282828" stroke-width="0.16">6.0 k</text>
<line x1="37.80" y1="226.95" x2="40.60" y2="226.95" stroke="#222" stroke-width="1.25"/>
<text x="33.80" y="229.95" font-size="8.2" text-anchor="end" fill="#282828" textLength="17.5" lengthAdjust="spacingAndGlyphs" stroke="#282828" stroke-width="0.16">4.0 k</text>
<line x1="37.80" y1="243.67" x2="40.60" y2="243.67" stroke="#222" stroke-width="1.25"/>
<text x="33.80" y="246.67" font-size="8.2" text-anchor="end" fill="#282828" textLength="17.5" lengthAdjust="spacingAndGlyphs" stroke="#282828" stroke-width="0.16">2.0 k</text>
<line x1="37.80" y1="260.40" x2="40.60" y2="260.40" stroke="#222" stroke-width="1.25"/>
<text x="33.80" y="263.40" font-size="8.2" text-anchor="end" fill="#282828" stroke="#282828" stroke-width="0.16">0</text>
<line x1="39.30" y1="258.31" x2="40.60" y2="258.31" stroke="#222" stroke-width="0.7"/>
<line x1="39.30" y1="256.22" x2="40.60" y2="256.22" stroke="#222" stroke-width="0.7"/>
<line x1="39.30" y1="254.13" x2="40.60" y2="254.13" stroke="#222" stroke-width="0.7"/>
<line x1="39.30" y1="252.04" x2="40.60" y2="252.04" stroke="#222" stroke-width="0.7"/>
<line x1="39.30" y1="249.95" x2="40.60" y2="249.95" stroke="#222" stroke-width="0.7"/>
<line x1="39.30" y1="247.86" x2="40.60" y2="247.86" stroke="#222" stroke-width="0.7"/>
<line x1="39.30" y1="245.77" x2="40.60" y2="245.77" stroke="#222" stroke-width="0.7"/>
<line x1="39.30" y1="241.58" x2="40.60" y2="241.58" stroke="#222" stroke-width="0.7"/>
<line x1="39.30" y1="239.49" x2="40.60" y2="239.49" stroke="#222" stroke-width="0.7"/>
<line x1="39.30" y1="237.40" x2="40.60" y2="237.40" stroke="#222" stroke-width="0.7"/>
<line x1="39.30" y1="235.31" x2="40.60" y2="235.31" stroke="#222" stroke-width="0.7"/>
<line x1="39.30" y1="233.22" x2="40.60" y2="233.22" stroke="#222" stroke-width="0.7"/>
<line x1="39.30" y1="231.13" x2="40.60" y2="231.13" stroke="#222" stroke-width="0.7"/>
<line x1="39.30" y1="229.04" x2="40.60" y2="229.04" stroke="#222" stroke-width="0.7"/>
<line x1="39.30" y1="224.86" x2="40.60" y2="224.86" stroke="#222" stroke-width="0.7"/>
<line x1="39.30" y1="222.77" x2="40.60" y2="222.77" stroke="#222" stroke-width="0.7"/>
<line x1="39.30" y1="220.68" x2="40.60" y2="220.68" stroke="#222" stroke-width="0.7"/>
<line x1="39.30" y1="218.59" x2="40.60" y2="218.59" stroke="#222" stroke-width="0.7"/>
<line x1="39.30" y1="216.50" x2="40.60" y2="216.50" stroke="#222" stroke-width="0.7"/>
<line x1="39.30" y1="214.41" x2="40.60" y2="214.41" stroke="#222" stroke-width="0.7"/>
<line x1="39.30" y1="212.32" x2="40.60" y2="212.32" stroke="#222" stroke-width="0.7"/>
<line x1="39.30" y1="208.13" x2="40.60" y2="208.13" stroke="#222" stroke-width="0.7"/>
<line x1="39.30" y1="206.04" x2="40.60" y2="206.04" stroke="#222" stroke-width="0.7"/>
<line x1="39.30" y1="203.95" x2="40.60" y2="203.95" stroke="#222" stroke-width="0.7"/>
<line x1="39.30" y1="201.86" x2="40.60" y2="201.86" stroke="#222" stroke-width="0.7"/>
<line x1="39.30" y1="199.77" x2="40.60" y2="199.77" stroke="#222" stroke-width="0.7"/>
<line x1="39.30" y1="197.68" x2="40.60" y2="197.68" stroke="#222" stroke-width="0.7"/>
<line x1="39.30" y1="195.59" x2="40.60" y2="195.59" stroke="#222" stroke-width="0.7"/>
<line x1="39.30" y1="191.41" x2="40.60" y2="191.41" stroke="#222" stroke-width="0.7"/>
<line x1="39.30" y1="189.32" x2="40.60" y2="189.32" stroke="#222" stroke-width="0.7"/>
<text x="10.60" y="224.40" font-size="9.4" text-anchor="middle" fill="#282828" textLength="20.4" lengthAdjust="spacingAndGlyphs" stroke="#282828" stroke-width="0.16" transform="rotate(-90 10.60 224.40)">Count</text>
<path d="M75.2 260.4 L76.5 254 L77.8 246 L78.6 241 L79.2 238.3 L80 241 L81 244 L81.9 244.7 L82.8 240 L83.6 226 L84.4 210 L85.3 198 L86.1 192 L86.9 198 L87.7 204 L88.5 212 L89.3 220 L91 228 L93.6 236 L96 242.3 L97.5 247 L98.4 251.9 L100 256.5 L101.6 260.4 Z" fill="#e3827a"/>
<path d="M157.2 260 L158 254 L158.6 248 L159.2 242.4 L159.7 236 L160.3 220 L161.1 204 L161.9 192 L162.4 198 L163.2 204 L164.5 220 L166.1 236 L168 242.4 L169.5 245.8 L172 246.2 L174.4 246.4 L176 248.8 L177.6 258.4 L178.4 260 Z" fill="#8592c4"/>
<line x1="71.80" y1="237.50" x2="102.00" y2="237.50" stroke="#222" stroke-width="1.25"/>
<line x1="71.80" y1="235.70" x2="71.80" y2="239.30" stroke="#222" stroke-width="1.25"/>
<line x1="83.90" y1="235.70" x2="83.90" y2="239.30" stroke="#222" stroke-width="1.25"/>
<line x1="92.20" y1="235.70" x2="92.20" y2="239.30" stroke="#222" stroke-width="1.25"/>
<line x1="102.00" y1="235.70" x2="102.00" y2="239.30" stroke="#222" stroke-width="1.25"/>
<line x1="153.20" y1="237.00" x2="179.50" y2="237.00" stroke="#222" stroke-width="1.25"/>
<line x1="153.20" y1="235.20" x2="153.20" y2="238.80" stroke="#222" stroke-width="1.25"/>
<line x1="165.40" y1="235.20" x2="165.40" y2="238.80" stroke="#222" stroke-width="1.25"/>
<line x1="170.30" y1="235.20" x2="170.30" y2="238.80" stroke="#222" stroke-width="1.25"/>
<line x1="179.50" y1="235.20" x2="179.50" y2="238.80" stroke="#222" stroke-width="1.25"/>
<text x="74.20" y="222.40" font-size="8.4" text-anchor="middle" fill="#282828" textLength="23" lengthAdjust="spacingAndGlyphs" stroke="#282828" stroke-width="0.16">G0/G1</text>
<text x="98.40" y="222.40" font-size="8.4" text-anchor="middle" fill="#282828" textLength="10.2" lengthAdjust="spacingAndGlyphs" stroke="#282828" stroke-width="0.16">G2</text>
<text x="75.40" y="232.30" font-size="8.4" text-anchor="middle" fill="#282828" textLength="14.7" lengthAdjust="spacingAndGlyphs" stroke="#282828" stroke-width="0.16">18,8</text>
<text x="98.70" y="232.30" font-size="8.4" text-anchor="middle" fill="#282828" textLength="15.2" lengthAdjust="spacingAndGlyphs" stroke="#282828" stroke-width="0.16">26,6</text>
<text x="88.60" y="246.60" font-size="8.6" text-anchor="middle" fill="#5a1818" stroke="#5a1818" stroke-width="0.16">S</text>
<text x="88.80" y="257.10" font-size="8.6" text-anchor="middle" fill="#5a1818" textLength="14.6" lengthAdjust="spacingAndGlyphs" stroke="#5a1818" stroke-width="0.16">54,6</text>
<text x="151.00" y="223.60" font-size="8.4" text-anchor="middle" fill="#282828" textLength="23.7" lengthAdjust="spacingAndGlyphs" stroke="#282828" stroke-width="0.16">G0/G1</text>
<text x="180.50" y="223.60" font-size="8.4" text-anchor="middle" fill="#282828" textLength="9" lengthAdjust="spacingAndGlyphs" stroke="#282828" stroke-width="0.16">G2</text>
<text x="151.60" y="234.10" font-size="8.4" text-anchor="middle" fill="#282828" textLength="16.1" lengthAdjust="spacingAndGlyphs" stroke="#282828" stroke-width="0.16">60,3</text>
<text x="181.00" y="234.10" font-size="8.4" text-anchor="middle" fill="#282828" textLength="15.6" lengthAdjust="spacingAndGlyphs" stroke="#282828" stroke-width="0.16">21,6</text>
<text x="166.40" y="248.30" font-size="8.6" text-anchor="middle" fill="#1a2040" stroke="#1a2040" stroke-width="0.16">S</text>
<text x="166.90" y="258.00" font-size="8.6" text-anchor="middle" fill="#1a2040" textLength="16.6" lengthAdjust="spacingAndGlyphs" stroke="#1a2040" stroke-width="0.16">18,7</text>
<line x1="41.10" y1="260.40" x2="41.10" y2="261.80" stroke="#222" stroke-width="0.6"/>
<line x1="43.15" y1="260.40" x2="43.15" y2="261.80" stroke="#222" stroke-width="0.6"/>
<line x1="45.20" y1="260.40" x2="45.20" y2="261.80" stroke="#222" stroke-width="0.6"/>
<line x1="47.25" y1="260.40" x2="47.25" y2="261.80" stroke="#222" stroke-width="0.6"/>
<line x1="49.30" y1="260.40" x2="49.30" y2="261.80" stroke="#222" stroke-width="0.6"/>
<line x1="51.35" y1="260.40" x2="51.35" y2="261.80" stroke="#222" stroke-width="0.6"/>
<line x1="53.40" y1="260.40" x2="53.40" y2="261.80" stroke="#222" stroke-width="0.6"/>
<line x1="55.45" y1="260.40" x2="55.45" y2="261.80" stroke="#222" stroke-width="0.6"/>
<line x1="57.50" y1="260.40" x2="57.50" y2="261.80" stroke="#222" stroke-width="0.6"/>
<line x1="59.55" y1="260.40" x2="59.55" y2="261.80" stroke="#222" stroke-width="0.6"/>
<line x1="61.60" y1="260.40" x2="61.60" y2="261.80" stroke="#222" stroke-width="0.6"/>
<line x1="63.65" y1="260.40" x2="63.65" y2="261.80" stroke="#222" stroke-width="0.6"/>
<line x1="65.70" y1="260.40" x2="65.70" y2="261.80" stroke="#222" stroke-width="0.6"/>
<line x1="67.75" y1="260.40" x2="67.75" y2="261.80" stroke="#222" stroke-width="0.6"/>
<line x1="69.80" y1="260.40" x2="69.80" y2="261.80" stroke="#222" stroke-width="0.6"/>
<line x1="71.85" y1="260.40" x2="71.85" y2="261.80" stroke="#222" stroke-width="0.6"/>
<line x1="73.90" y1="260.40" x2="73.90" y2="261.80" stroke="#222" stroke-width="0.6"/>
<line x1="75.95" y1="260.40" x2="75.95" y2="261.80" stroke="#222" stroke-width="0.6"/>
<line x1="78.00" y1="260.40" x2="78.00" y2="261.80" stroke="#222" stroke-width="0.6"/>
<line x1="80.05" y1="260.40" x2="80.05" y2="261.80" stroke="#222" stroke-width="0.6"/>
<line x1="82.10" y1="260.40" x2="82.10" y2="261.80" stroke="#222" stroke-width="0.6"/>
<line x1="84.15" y1="260.40" x2="84.15" y2="261.80" stroke="#222" stroke-width="0.6"/>
<line x1="86.20" y1="260.40" x2="86.20" y2="261.80" stroke="#222" stroke-width="0.6"/>
<line x1="88.25" y1="260.40" x2="88.25" y2="261.80" stroke="#222" stroke-width="0.6"/>
<line x1="90.30" y1="260.40" x2="90.30" y2="261.80" stroke="#222" stroke-width="0.6"/>
<line x1="92.35" y1="260.40" x2="92.35" y2="261.80" stroke="#222" stroke-width="0.6"/>
<line x1="94.40" y1="260.40" x2="94.40" y2="261.80" stroke="#222" stroke-width="0.6"/>
<line x1="96.45" y1="260.40" x2="96.45" y2="261.80" stroke="#222" stroke-width="0.6"/>
<line x1="98.50" y1="260.40" x2="98.50" y2="261.80" stroke="#222" stroke-width="0.6"/>
<line x1="100.55" y1="260.40" x2="100.55" y2="261.80" stroke="#222" stroke-width="0.6"/>
<line x1="102.60" y1="260.40" x2="102.60" y2="261.80" stroke="#222" stroke-width="0.6"/>
<line x1="104.65" y1="260.40" x2="104.65" y2="261.80" stroke="#222" stroke-width="0.6"/>
<line x1="106.70" y1="260.40" x2="106.70" y2="261.80" stroke="#222" stroke-width="0.6"/>
<line x1="108.75" y1="260.40" x2="108.75" y2="261.80" stroke="#222" stroke-width="0.6"/>
<line x1="110.80" y1="260.40" x2="110.80" y2="261.80" stroke="#222" stroke-width="0.6"/>
<line x1="40.90" y1="260.40" x2="40.90" y2="263.00" stroke="#222" stroke-width="1.25"/>
<line x1="77.80" y1="260.40" x2="77.80" y2="263.00" stroke="#222" stroke-width="1.25"/>
<line x1="120.20" y1="260.40" x2="120.20" y2="261.80" stroke="#222" stroke-width="0.6"/>
<line x1="122.25" y1="260.40" x2="122.25" y2="261.80" stroke="#222" stroke-width="0.6"/>
<line x1="124.30" y1="260.40" x2="124.30" y2="261.80" stroke="#222" stroke-width="0.6"/>
<line x1="126.35" y1="260.40" x2="126.35" y2="261.80" stroke="#222" stroke-width="0.6"/>
<line x1="128.40" y1="260.40" x2="128.40" y2="261.80" stroke="#222" stroke-width="0.6"/>
<line x1="130.45" y1="260.40" x2="130.45" y2="261.80" stroke="#222" stroke-width="0.6"/>
<line x1="132.50" y1="260.40" x2="132.50" y2="261.80" stroke="#222" stroke-width="0.6"/>
<line x1="134.55" y1="260.40" x2="134.55" y2="261.80" stroke="#222" stroke-width="0.6"/>
<line x1="136.60" y1="260.40" x2="136.60" y2="261.80" stroke="#222" stroke-width="0.6"/>
<line x1="138.65" y1="260.40" x2="138.65" y2="261.80" stroke="#222" stroke-width="0.6"/>
<line x1="140.70" y1="260.40" x2="140.70" y2="261.80" stroke="#222" stroke-width="0.6"/>
<line x1="142.75" y1="260.40" x2="142.75" y2="261.80" stroke="#222" stroke-width="0.6"/>
<line x1="144.80" y1="260.40" x2="144.80" y2="261.80" stroke="#222" stroke-width="0.6"/>
<line x1="146.85" y1="260.40" x2="146.85" y2="261.80" stroke="#222" stroke-width="0.6"/>
<line x1="148.90" y1="260.40" x2="148.90" y2="261.80" stroke="#222" stroke-width="0.6"/>
<line x1="150.95" y1="260.40" x2="150.95" y2="261.80" stroke="#222" stroke-width="0.6"/>
<line x1="153.00" y1="260.40" x2="153.00" y2="261.80" stroke="#222" stroke-width="0.6"/>
<line x1="155.05" y1="260.40" x2="155.05" y2="261.80" stroke="#222" stroke-width="0.6"/>
<line x1="157.10" y1="260.40" x2="157.10" y2="261.80" stroke="#222" stroke-width="0.6"/>
<line x1="159.15" y1="260.40" x2="159.15" y2="261.80" stroke="#222" stroke-width="0.6"/>
<line x1="161.20" y1="260.40" x2="161.20" y2="261.80" stroke="#222" stroke-width="0.6"/>
<line x1="163.25" y1="260.40" x2="163.25" y2="261.80" stroke="#222" stroke-width="0.6"/>
<line x1="165.30" y1="260.40" x2="165.30" y2="261.80" stroke="#222" stroke-width="0.6"/>
<line x1="167.35" y1="260.40" x2="167.35" y2="261.80" stroke="#222" stroke-width="0.6"/>
<line x1="169.40" y1="260.40" x2="169.40" y2="261.80" stroke="#222" stroke-width="0.6"/>
<line x1="171.45" y1="260.40" x2="171.45" y2="261.80" stroke="#222" stroke-width="0.6"/>
<line x1="173.50" y1="260.40" x2="173.50" y2="261.80" stroke="#222" stroke-width="0.6"/>
<line x1="175.55" y1="260.40" x2="175.55" y2="261.80" stroke="#222" stroke-width="0.6"/>
<line x1="177.60" y1="260.40" x2="177.60" y2="261.80" stroke="#222" stroke-width="0.6"/>
<line x1="179.65" y1="260.40" x2="179.65" y2="261.80" stroke="#222" stroke-width="0.6"/>
<line x1="181.70" y1="260.40" x2="181.70" y2="261.80" stroke="#222" stroke-width="0.6"/>
<line x1="183.75" y1="260.40" x2="183.75" y2="261.80" stroke="#222" stroke-width="0.6"/>
<line x1="185.80" y1="260.40" x2="185.80" y2="261.80" stroke="#222" stroke-width="0.6"/>
<line x1="187.85" y1="260.40" x2="187.85" y2="261.80" stroke="#222" stroke-width="0.6"/>
<line x1="189.90" y1="260.40" x2="189.90" y2="261.80" stroke="#222" stroke-width="0.6"/>
<line x1="120.00" y1="260.40" x2="120.00" y2="263.00" stroke="#222" stroke-width="1.25"/>
<line x1="156.90" y1="260.40" x2="156.90" y2="263.00" stroke="#222" stroke-width="1.25"/>
<text x="40.60" y="273.50" font-size="8.4" text-anchor="middle" fill="#282828" stroke="#282828" stroke-width="0.16">0</text>
<text x="77.30" y="273.50" font-size="8.4" text-anchor="middle" fill="#282828" stroke="#282828" stroke-width="0.16">10<tspan font-size="5.5" dy="-3.2">4</tspan></text>
<text x="119.50" y="273.50" font-size="8.4" text-anchor="middle" fill="#282828" stroke="#282828" stroke-width="0.16">0</text>
<text x="156.30" y="273.50" font-size="8.4" text-anchor="middle" fill="#282828" stroke="#282828" stroke-width="0.16">10<tspan font-size="5.5" dy="-3.2">4</tspan></text>
<line x1="41.50" y1="279.60" x2="186.40" y2="279.60" stroke="#222" stroke-width="1.25"/>
<path d="M190.40 279.60 L185.40 277.10 L185.40 282.10 Z" fill="#222"/>
<text x="116.30" y="291.70" font-size="8.6" text-anchor="middle" fill="#282828" textLength="26.9" lengthAdjust="spacingAndGlyphs" stroke="#282828" stroke-width="0.16">DRAQ-5</text>
<text x="316.20" y="182.40" font-size="10.5" font-weight="bold" fill="#111">F</text>
<text x="342.00" y="197.30" font-size="10" fill="#262626" textLength="58.1" lengthAdjust="spacingAndGlyphs" stroke="#262626" stroke-width="0.16">Proliferation 48h</text>
<line x1="350.60" y1="216.20" x2="350.60" y2="279.40" stroke="#222" stroke-width="1.25"/>
<line x1="347.80" y1="218.90" x2="350.30" y2="218.90" stroke="#222" stroke-width="1.25"/>
<text x="344.50" y="222.00" font-size="8.6" text-anchor="end" fill="#282828" stroke="#282828" stroke-width="0.16">3</text>
<line x1="347.80" y1="249.15" x2="350.30" y2="249.15" stroke="#222" stroke-width="1.25"/>
<text x="344.50" y="252.25" font-size="8.6" text-anchor="end" fill="#282828" stroke="#282828" stroke-width="0.16">1.5</text>
<line x1="347.80" y1="279.40" x2="350.30" y2="279.40" stroke="#222" stroke-width="1.25"/>
<text x="344.50" y="282.50" font-size="8.6" text-anchor="end" fill="#282828" stroke="#282828" stroke-width="0.16">0</text>
<line x1="349.00" y1="279.40" x2="390.40" y2="279.40" stroke="#222" stroke-width="1.25"/>
<rect x="357.00" y="224.40" width="11.20" height="55.00" fill="#c8102e"/>
<rect x="374.00" y="248.70" width="11.40" height="30.70" fill="#174b82"/>
<line x1="362.60" y1="222.30" x2="362.60" y2="226.00" stroke="#222" stroke-width="1.25"/>
<line x1="360.60" y1="222.30" x2="364.60" y2="222.30" stroke="#222" stroke-width="1.25"/>
<line x1="379.70" y1="247.40" x2="379.70" y2="250.50" stroke="#222" stroke-width="1.25"/>
<line x1="377.70" y1="247.40" x2="381.70" y2="247.40" stroke="#222" stroke-width="1.25"/>
<circle cx="359.50" cy="224.20" r="0.7" fill="#333"/>
<circle cx="362.50" cy="224.20" r="0.7" fill="#333"/>
<circle cx="365.50" cy="224.20" r="0.7" fill="#333"/>
<circle cx="376.50" cy="248.60" r="0.7" fill="#222"/>
<circle cx="379.50" cy="248.60" r="0.7" fill="#222"/>
<circle cx="382.50" cy="248.60" r="0.7" fill="#222"/>
<line x1="362.50" y1="211.10" x2="380.60" y2="211.10" stroke="#222" stroke-width="1.25"/>
<text x="371.40" y="211.60" font-size="9.6" text-anchor="middle" textLength="10.4" lengthAdjust="spacingAndGlyphs" stroke="#222" stroke-width="0.16">***</text>
<line x1="362.50" y1="279.40" x2="362.50" y2="281.80" stroke="#222" stroke-width="1.25"/>
<line x1="379.80" y1="279.40" x2="379.80" y2="281.80" stroke="#222" stroke-width="1.25"/>
<text x="366.80" y="289.80" font-size="8.4" text-anchor="end" fill="#2a2a2a" textLength="20.5" lengthAdjust="spacingAndGlyphs" stroke="#2a2a2a" stroke-width="0.16" transform="rotate(-45 366.80 289.80)">Mock</text>
<text x="385.50" y="289.80" font-size="8.4" text-anchor="end" fill="#2a2a2a" textLength="36.5" lengthAdjust="spacingAndGlyphs" stroke="#2a2a2a" stroke-width="0.16" transform="rotate(-45 385.50 289.80)">shINPP5K</text>
<text x="328.20" y="248.20" font-size="9.0" text-anchor="middle" fill="#282828" textLength="74.5" lengthAdjust="spacingAndGlyphs" stroke="#282828" stroke-width="0.16" transform="rotate(-90 328.20 248.20)">Live count cells (x10<tspan font-size="6.2" dy="-3.2">5</tspan><tspan dy="3.2">)</tspan></text>
<text x="427.10" y="182.40" font-size="10.5" font-weight="bold" fill="#111">G</text>
<text x="448.50" y="197.60" font-size="10" fill="#262626" textLength="47.5" lengthAdjust="spacingAndGlyphs" stroke="#262626" stroke-width="0.16">PtdIns(4,5)P2</text>
<line x1="451.80" y1="216.20" x2="451.80" y2="279.30" stroke="#222" stroke-width="1.25"/>
<line x1="449.20" y1="218.90" x2="451.70" y2="218.90" stroke="#222" stroke-width="1.25"/>
<text x="446.60" y="222.00" font-size="8.6" text-anchor="end" fill="#282828" stroke="#282828" stroke-width="0.16">2</text>
<line x1="449.20" y1="249.10" x2="451.70" y2="249.10" stroke="#222" stroke-width="1.25"/>
<text x="446.60" y="252.20" font-size="8.6" text-anchor="end" fill="#282828" stroke="#282828" stroke-width="0.16">1</text>
<line x1="449.20" y1="279.30" x2="451.70" y2="279.30" stroke="#222" stroke-width="1.25"/>
<text x="446.60" y="282.40" font-size="8.6" text-anchor="end" fill="#282828" stroke="#282828" stroke-width="0.16">0</text>
<line x1="447.70" y1="279.30" x2="491.80" y2="279.30" stroke="#222" stroke-width="1.25"/>
<rect x="457.70" y="249.10" width="11.10" height="30.20" fill="#c8102e"/>
<rect x="475.20" y="229.10" width="10.90" height="50.20" fill="#174b82"/>
<line x1="480.60" y1="223.20" x2="480.60" y2="236.00" stroke="#222" stroke-width="1.25"/>
<line x1="478.60" y1="223.20" x2="482.60" y2="223.20" stroke="#222" stroke-width="1.25"/>
<circle cx="459.70" cy="249.10" r="1.15" fill="#222"/>
<circle cx="463.20" cy="249.10" r="1.15" fill="#222"/>
<circle cx="466.70" cy="249.10" r="1.15" fill="#222"/>
<circle cx="480.60" cy="220.40" r="0.7" fill="#222"/>
<circle cx="481.00" cy="237.50" r="0.6" fill="#113"/>
<circle cx="480.20" cy="244.00" r="0.6" fill="#113"/>
<line x1="462.80" y1="210.90" x2="480.80" y2="210.90" stroke="#222" stroke-width="1.25"/>
<text x="471.80" y="211.40" font-size="9.6" text-anchor="middle" stroke="#222" stroke-width="0.16">*</text>
<line x1="463.30" y1="279.30" x2="463.30" y2="281.80" stroke="#222" stroke-width="1.25"/>
<line x1="480.60" y1="279.30" x2="480.60" y2="281.80" stroke="#222" stroke-width="1.25"/>
<text x="467.70" y="290.80" font-size="8.4" text-anchor="end" fill="#2a2a2a" textLength="20.5" lengthAdjust="spacingAndGlyphs" stroke="#2a2a2a" stroke-width="0.16" transform="rotate(-45 467.70 290.80)">Mock</text>
<text x="487.10" y="290.80" font-size="8.4" text-anchor="end" fill="#2a2a2a" textLength="36.5" lengthAdjust="spacingAndGlyphs" stroke="#2a2a2a" stroke-width="0.16" transform="rotate(-45 487.10 290.80)">shINPP5K</text>
<text x="434.50" y="248.90" font-size="9.2" text-anchor="middle" fill="#282828" textLength="41.4" lengthAdjust="spacingAndGlyphs" stroke="#282828" stroke-width="0.16" transform="rotate(-90 434.50 248.90)">Fold change</text>
<text x="135.30" y="353.10" font-size="10.5" font-weight="bold" fill="#111">H</text>
<text x="183.20" y="366.60" font-size="9.0" text-anchor="middle" fill="#2a2a2a" textLength="20.3" lengthAdjust="spacingAndGlyphs" stroke="#2a2a2a" stroke-width="0.16">Mock</text>
<text x="237.20" y="366.60" font-size="9.0" text-anchor="middle" fill="#2a2a2a" textLength="40.4" lengthAdjust="spacingAndGlyphs" stroke="#2a2a2a" stroke-width="0.16">shINPP5K5</text>
<rect x="158.10" y="372.00" width="49.60" height="48.90" fill="#221f27" stroke="#8e1e36" stroke-width="1.1"/>
<rect x="211.50" y="372.00" width="49.80" height="48.60" fill="#1f1f27" stroke="#2c4868" stroke-width="1.1"/>
<defs><linearGradient id="csg" x1="0" x2="0" y1="0" y2="1"><stop offset="0" stop-color="#d04050"/><stop offset="0.5" stop-color="#a08080"/><stop offset="1" stop-color="#20a090"/></linearGradient></defs>
<rect x="203.60" y="373.00" width="3.20" height="14.30" fill="url(#csg)" stroke="#fff" stroke-width="0.9"/>
<rect x="257.40" y="373.00" width="3.20" height="14.30" fill="url(#csg)" stroke="#fff" stroke-width="0.9"/>
<text x="263.80" y="379.20" font-size="9.6" fill="#2a2a2a" stroke="#2a2a2a" stroke-width="0.16">4</text>
<text x="263.80" y="390.00" font-size="9.6" fill="#2a2a2a" stroke="#2a2a2a" stroke-width="0.16">0</text>
<circle cx="199.50" cy="382.30" r="1.7" fill="#2a8080" filter="url(#blur3)" fill-opacity="0.55"/>
<circle cx="199.50" cy="382.30" r="1.02" fill="#2a8080" filter="url(#blur1)"/>
<circle cx="169.00" cy="395.90" r="2.5" fill="#6a9080" filter="url(#blur3)" fill-opacity="0.55"/>
<circle cx="169.00" cy="395.90" r="1.7" fill="#6a9080" filter="url(#blur1)"/>
<circle cx="197.20" cy="397.90" r="2.4" fill="#a0a060" filter="url(#blur3)" fill-opacity="0.55"/>
<circle cx="197.20" cy="397.90" r="1.615" fill="#a0a060" filter="url(#blur1)"/>
<circle cx="183.50" cy="404.60" r="2.2" fill="#a09070" filter="url(#blur3)" fill-opacity="0.55"/>
<circle cx="183.50" cy="404.60" r="1.4449999999999998" fill="#a09070" filter="url(#blur1)"/>
<circle cx="166.50" cy="407.00" r="2.2" fill="#a09070" filter="url(#blur3)" fill-opacity="0.55"/>
<circle cx="166.50" cy="407.00" r="1.4449999999999998" fill="#a09070" filter="url(#blur1)"/>
<circle cx="199.90" cy="406.00" r="2.6" fill="#30a088" filter="url(#blur3)" fill-opacity="0.55"/>
<circle cx="199.90" cy="406.00" r="1.785" fill="#30a088" filter="url(#blur1)"/>
<circle cx="173.40" cy="410.20" r="2.2" fill="#30907a" filter="url(#blur3)" fill-opacity="0.55"/>
<circle cx="173.40" cy="410.20" r="1.4449999999999998" fill="#30907a" filter="url(#blur1)"/>
<circle cx="162.40" cy="416.10" r="2.2" fill="#30907a" filter="url(#blur3)" fill-opacity="0.55"/>
<circle cx="162.40" cy="416.10" r="1.4449999999999998" fill="#30907a" filter="url(#blur1)"/>
<circle cx="226.50" cy="388.50" r="1.7" fill="#8a8068" filter="url(#blur3)" fill-opacity="0.55"/>
<circle cx="226.50" cy="388.50" r="1.02" fill="#8a8068" filter="url(#blur1)"/>
<circle cx="253.90" cy="387.70" r="2.5" fill="#b08458" filter="url(#blur3)" fill-opacity="0.55"/>
<circle cx="253.90" cy="387.70" r="1.7" fill="#b08458" filter="url(#blur1)"/>
<circle cx="256.30" cy="402.80" r="1.9" fill="#4a4a4c" filter="url(#blur3)" fill-opacity="0.55"/>
<circle cx="256.30" cy="402.80" r="1.19" fill="#4a4a4c" filter="url(#blur1)"/>
<circle cx="243.80" cy="405.00" r="2.2" fill="#9a9070" filter="url(#blur3)" fill-opacity="0.55"/>
<circle cx="243.80" cy="405.00" r="1.4449999999999998" fill="#9a9070" filter="url(#blur1)"/>
<circle cx="252.30" cy="406.10" r="2.2" fill="#9a9070" filter="url(#blur3)" fill-opacity="0.55"/>
<circle cx="252.30" cy="406.10" r="1.4449999999999998" fill="#9a9070" filter="url(#blur1)"/>
<circle cx="220.90" cy="408.00" r="2.2" fill="#84984e" filter="url(#blur3)" fill-opacity="0.55"/>
<circle cx="220.90" cy="408.00" r="1.4449999999999998" fill="#84984e" filter="url(#blur1)"/>
<circle cx="239.20" cy="409.70" r="2.4" fill="#868078" filter="url(#blur3)" fill-opacity="0.55"/>
<circle cx="239.20" cy="409.70" r="1.615" fill="#868078" filter="url(#blur1)"/>
<circle cx="245.90" cy="416.30" r="2.2" fill="#a09478" filter="url(#blur3)" fill-opacity="0.55"/>
<circle cx="245.90" cy="416.30" r="1.4449999999999998" fill="#a09478" filter="url(#blur1)"/>
<circle cx="215.20" cy="418.00" r="2.3" fill="#c46a40" filter="url(#blur3)" fill-opacity="0.55"/>
<circle cx="215.20" cy="418.00" r="1.53" fill="#c46a40" filter="url(#blur1)"/>
<text x="304.00" y="341.60" font-size="9.6" fill="#262626" textLength="49.2" lengthAdjust="spacingAndGlyphs" stroke="#262626" stroke-width="0.16">Dio'/p-IL-7Rα</text>
<text x="353.90" y="339.00" font-size="7.3" fill="#1e1e1e" textLength="10.1" lengthAdjust="spacingAndGlyphs" stroke="#1e1e1e" stroke-width="0.16">Y449</text>
<line x1="313.00" y1="360.60" x2="313.00" y2="424.60" stroke="#222" stroke-width="1.25"/>
<line x1="310.30" y1="363.30" x2="312.90" y2="363.30" stroke="#222" stroke-width="1.25"/>
<text x="306.90" y="366.40" font-size="8.6" text-anchor="end" fill="#282828" stroke="#282828" stroke-width="0.16">5</text>
<line x1="310.30" y1="393.95" x2="312.90" y2="393.95" stroke="#222" stroke-width="1.25"/>
<text x="306.90" y="397.05" font-size="8.6" text-anchor="end" fill="#282828" stroke="#282828" stroke-width="0.16">2.5</text>
<line x1="310.30" y1="424.60" x2="312.90" y2="424.60" stroke="#222" stroke-width="1.25"/>
<text x="306.90" y="427.70" font-size="8.6" text-anchor="end" fill="#282828" stroke="#282828" stroke-width="0.16">0</text>
<line x1="310.40" y1="424.60" x2="353.70" y2="424.60" stroke="#222" stroke-width="1.25"/>
<rect x="319.70" y="404.00" width="11.50" height="20.60" fill="#c8102e"/>
<rect x="337.00" y="381.60" width="10.90" height="43.00" fill="#174b82"/>
<line x1="325.40" y1="398.70" x2="325.40" y2="409.20" stroke="#222" stroke-width="1.25"/>
<line x1="323.40" y1="398.70" x2="327.40" y2="398.70" stroke="#222" stroke-width="1.25"/>
<line x1="342.40" y1="371.60" x2="342.40" y2="391.50" stroke="#222" stroke-width="1.25"/>
<line x1="340.40" y1="371.60" x2="344.40" y2="371.60" stroke="#222" stroke-width="1.25"/>
<line x1="324.60" y1="356.10" x2="343.00" y2="356.10" stroke="#222" stroke-width="1.25"/>
<text x="333.90" y="356.60" font-size="9.6" text-anchor="middle" stroke="#222" stroke-width="0.16">*</text>
<line x1="325.50" y1="424.60" x2="325.50" y2="427.00" stroke="#222" stroke-width="1.25"/>
<line x1="342.40" y1="424.60" x2="342.40" y2="427.00" stroke="#222" stroke-width="1.25"/>
<text x="329.30" y="436.00" font-size="8.4" text-anchor="end" fill="#2a2a2a" textLength="20.5" lengthAdjust="spacingAndGlyphs" stroke="#2a2a2a" stroke-width="0.16" transform="rotate(-45 329.30 436.00)">Mock</text>
<text x="349.30" y="436.00" font-size="8.4" text-anchor="end" fill="#2a2a2a" textLength="36.5" lengthAdjust="spacingAndGlyphs" stroke="#2a2a2a" stroke-width="0.16" transform="rotate(-45 349.30 436.00)">shINPP5K</text>
<text x="290.60" y="393.60" font-size="9.0" text-anchor="middle" fill="#282828" textLength="49.2" lengthAdjust="spacingAndGlyphs" stroke="#282828" stroke-width="0.16" transform="rotate(-90 290.60 393.60)">FRET efficiency</text>
</svg>
</body></html>
